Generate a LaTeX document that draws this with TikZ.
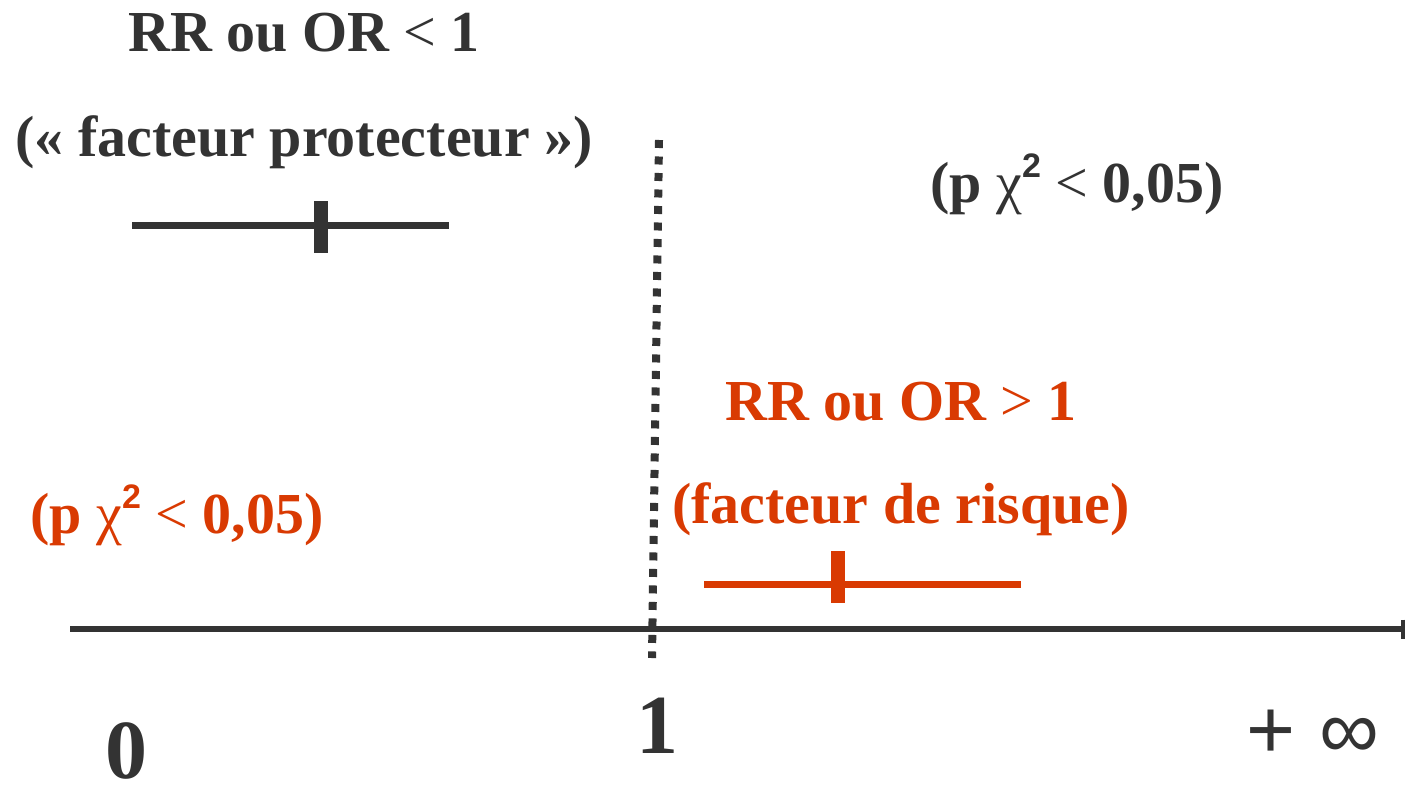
\documentclass[tikz,border=0pt]{standalone}
\usepackage{fontspec}
\setmainfont{Liberation Serif}
\newfontfamily\sansf{Liberation Sans}
\usetikzlibrary{arrows.meta}
\definecolor{dk}{RGB}{51,51,51}
\definecolor{orr}{RGB}{217,58,2}
\newcommand{\chisq}{{\mdseries χ}\raisebox{0.42em}{\sansf\fontsize{34}{36}\selectfont\bfseries 2}}
\tikzset{
  lbl/.style={inner sep=0pt, anchor=base, font=\fontsize{58}{60}\selectfont\bfseries},
  big/.style={inner sep=0pt, anchor=base, font=\fontsize{84}{86}\selectfont\bfseries, text=dk},
  ebar/.style={line width=7pt, line cap=butt},
  etick/.style={line width=14pt, line cap=butt},
}
\begin{document}
\begin{tikzpicture}[x=1pt,y=-1pt]
\useasboundingbox (0,0) rectangle (1405,789);
% texts
\node[lbl, text=dk] (t1) at (304,52) {RR ou OR {\mdseries<} 1};
\node[lbl, text=dk] (t2) at (304,157) {(« facteur protecteur »)};
\node[lbl, text=dk] (t3) at (1077,202) {(p \chisq{} {\mdseries<} 0,05)};
\node[lbl, text=orr] (t4) at (901,420) {RR ou OR {\mdseries>} 1};
\node[lbl, text=orr] (t5) at (901,523) {(facteur de risque)};
\node[lbl, text=orr] (t6) at (177,533) {(p \chisq{} {\mdseries<} 0,05)};
\node[big] (n0) at (126,778) {0};
\node[big] (n1) at (657,753) {1};
\node[inner sep=0pt, anchor=base, text=dk, font=\sansf\fontsize{84}{86}\selectfont] (ninf) at (1313,758) {+ ∞};
% dotted line
\coordinate (dT) at (659,140);
\coordinate (dB) at (652,658);
\draw[dk, line width=8pt, line cap=butt, dash pattern=on 8pt off 8.5pt] (dT) -- (dB);
% axis
\coordinate (aL) at (70,629);
\coordinate (aR) at (1405,629);
\draw[dk, line width=5.5pt, -{Bar[width=19pt,line width=4pt]}] (aL) -- (aR);
% top error bar
\coordinate (e1L) at (132,225.5);
\coordinate (e1R) at (449,225.5);
\coordinate (e1T) at (321,201);
\coordinate (e1B) at (321,253);
\draw[dk, ebar] (e1L) -- (e1R);
\draw[dk, etick] (e1T) -- (e1B);
% bottom error bar
\coordinate (e2L) at (704,584.5);
\coordinate (e2R) at (1021,584.5);
\coordinate (e2T) at (838,551);
\coordinate (e2B) at (838,603);
\draw[orr, ebar] (e2L) -- (e2R);
\draw[orr, etick] (e2T) -- (e2B);
\end{tikzpicture}
\end{document}
